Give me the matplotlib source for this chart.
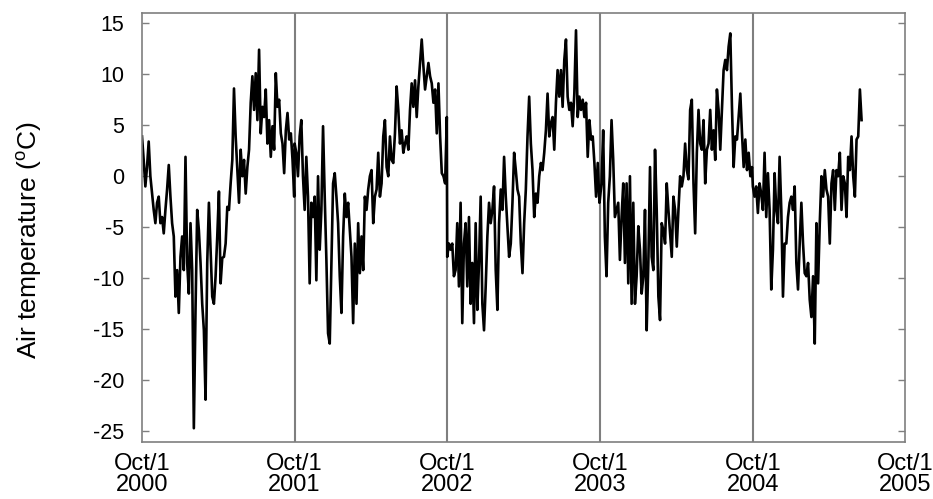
import numpy as np
import pandas as pd
import matplotlib
matplotlib.use("Agg")
import matplotlib.pyplot as plt

plt.rcParams['font.family'] = ['Liberation Sans', 'DejaVu Sans']
plt.rcParams['mathtext.fontset'] = 'custom'
plt.rcParams['mathtext.rm'] = 'Liberation Sans'

# air temperature (deg C), sampled every 4 days from Oct 1 of each water year
wy2001 = [3.9, 1.6, -1.0, 0.9, 3.4, 0.0, -1.7, -3.3, -4.6, -2.6, -2.0, -4.6, -4.0, -5.6, -3.3, -1.3,
          1.1, -2.0, -4.6, -5.9, -11.8, -9.2, -13.4, -7.9, -5.9, -9.2, 1.9, -8.5, -11.5, -4.6, -9.2, -24.7,
          -13.1, -3.3, -5.3, -8.5, -12.5, -15.1, -21.9, -8.5, -2.6, -7.2, -11.8, -12.5, -9.8, -5.9, -1.5,
          -10.5, -8.0, -7.9, -6.6, -3.0, -3.3, -0.7, 1.6, 8.6, 3.9, 0.6, -2.6, 2.6, 0.0, 1.6, -1.7, 0.9,
          2.6, 7.2, 9.8, 6.5, 10.1, 5.5, 12.4, 4.2, 6.8, 5.8, 8.5, 3.2, 5.5, 1.9, 4.9, 2.6, 10.1, 6.8,
          7.5, 4.2, 3.2, 0.3, 4.5, 6.2, 3.6, 4.2, 1.6, -2.0]
wy2002 = [3.2, 2.3, 0.0, 3.9, 5.5, 0.0, -3.3, 1.9, -2.0, -10.5, -2.6, -4.0, -2.0, -10.2, 0.0, -7.2,
          -3.3, 4.9, -2.0, -8.2, -15.4, -16.4, -8.5, -0.7, 0.3, -2.0, -4.6, -9.8, -13.4, -5.9, -1.7, -4.0,
          -2.6, -5.3, -7.9, -14.4, -6.6, -12.5, -4.6, -9.5, -5.9, -9.2, -2.0, -3.3, -1.3, 0.0, 0.6, -4.6,
          -2.0, -1.3, 2.3, -2.0, -0.7, 3.9, 5.5, 0.9, 0.0, 3.9, 1.6, 1.3, 4.2, 8.8, 6.5, 3.2, 4.5, 2.3,
          3.2, 3.9, 2.6, 6.5, 9.1, 6.8, 9.4, 5.8, 8.8, 11.1, 13.4, 10.8, 8.5, 9.8, 11.1, 9.8, 9.1, 7.2,
          8.5, 4.2, 9.1, 3.9, 0.3, 0.0, -0.7, 5.8]
wy2003 = [-7.9, -6.6, -7.2, -6.6, -9.8, -9.2, -4.6, -10.8, -2.6, -14.4, -6.6, -4.6, -10.8, -4.0, -12.5,
          -8.5, -14.4, -4.6, -13.1, -8.5, -2.0, -12.5, -15.1, -10.8, -5.9, -2.6, -4.6, -3.3, -1.0, -9.2,
          -13.1, -4.6, -1.3, -3.3, 1.9, -2.0, -4.9, -7.9, -6.6, -2.6, 2.3, 0.6, -1.3, -2.0, -6.6, -9.5,
          -4.6, -1.3, 3.9, 7.8, 3.2, 0.6, -4.0, -1.7, -2.6, 0.0, 1.3, 0.6, 2.3, 4.5, 8.1, 3.9, 5.2, 5.8,
          2.6, 7.2, 10.4, 7.8, 10.4, 6.8, 11.4, 13.4, 7.8, 6.5, 7.2, 4.9, 8.1, 14.3, 5.8, 7.8, 6.5, 7.5,
          5.8, 7.2, 1.9, 5.5, 3.6, 3.9, 1.3, -2.0, 1.3, -2.6]
wy2004 = [-2.3, -0.7, 4.5, -5.9, -9.8, -2.6, 0.0, 5.5, 1.6, -4.0, -3.3, -2.6, -8.2, -4.0, -0.7, -8.5,
          -0.7, -10.5, 0.0, -12.5, -2.6, -12.5, -9.8, -4.9, -7.2, -11.5, -9.8, -3.3, -15.1, -8.5, 0.9,
          -7.9, -9.2, 2.6, -3.3, -11.8, -14.1, -4.6, -5.3, -6.6, -0.7, -3.3, -5.6, -7.9, -2.0, -3.3, -6.9,
          -3.3, 0.0, -1.0, 0.0, 3.2, 0.6, -0.3, 6.5, 7.5, -0.7, -5.6, 2.3, 6.5, 3.2, 2.6, 5.5, -0.7, 2.6,
          3.2, 6.5, 2.6, 4.5, 1.6, 8.5, 6.5, 2.6, 6.5, 10.4, 11.4, 10.4, 12.7, 14.0, 6.8, 0.9, 3.9, 3.6,
          5.8, 8.1, 4.2, 0.9, 3.6, 0.6, 2.3, 0.0, 0.9]
wy2005 = [-1.0, -2.0, -1.0, -3.6, -0.7, -1.7, -3.3, 2.3, -4.0, 0.3, -3.3, -11.1, -7.2, 0.3, -3.3, -4.6,
          1.9, -3.3, -11.8, -6.6, -6.6, -4.0, -2.6, -2.0, -3.3, -1.0, -8.5, -11.1, -6.6, -2.6, -6.6, -9.5,
          -9.8, -8.5, -12.1, -13.8, -9.8, -16.4, -4.6, -10.5, -4.6, 0.0, -2.0, 0.6, -1.3, -2.0, -6.6,
          -0.7, 0.6, -3.3, 0.6, 0.0, 2.3, -3.3, 0.0, -0.7, -4.0, 1.9, 0.6, 3.9, 0.0, -2.0, 3.6, 3.9, 8.5,
          5.5]

years = [2000, 2001, 2002, 2003, 2004]
series = [wy2001, wy2002, wy2003, wy2004, wy2005]

dates = []
temps = []
for y, vals in zip(years, series):
    d = pd.date_range(f"{y}-10-01", periods=len(vals), freq="4D")
    dates.extend(d)
    temps.extend(vals)

gray = '#7f7f7f'
fig = plt.figure(figsize=(9.33, 4.99), dpi=100)
ax = fig.add_axes([0.1522, 0.1152, 0.9705 - 0.1522, 0.974 - 0.1152])

for y in years[1:]:
    ax.axvline(pd.Timestamp(f"{y}-10-01"), color=gray, lw=1.5, zorder=1)
ax.plot(dates, temps, color='black', lw=1.9, zorder=2)

ax.set_xlim(pd.Timestamp("2000-10-01"), pd.Timestamp("2005-10-01"))
ax.set_ylim(-26, 16)
ax.set_yticks(np.arange(-25, 16, 5))
ax.set_yticklabels([str(v) for v in range(-25, 16, 5)])
xt = [pd.Timestamp(f"{y}-10-01") for y in range(2000, 2006)]
ax.set_xticks(xt)
ax.set_xticklabels([f"Oct/1\n{y}" for y in range(2000, 2006)], linespacing=0.95)

ax.tick_params(axis='y', direction='in', length=5, color=gray, width=1,
               right=True, labelsize=15.5, pad=13)
ax.tick_params(axis='x', length=0, labelsize=17, pad=8)
for s in ax.spines.values():
    s.set_color(gray)
    s.set_linewidth(1.2)

ax.set_ylabel(r"Air temperature ($^{\mathrm{o}}$C)", fontsize=19)
ax.yaxis.set_label_coords(-0.128, 0.47)

fig.savefig("out.png", dpi=100)
